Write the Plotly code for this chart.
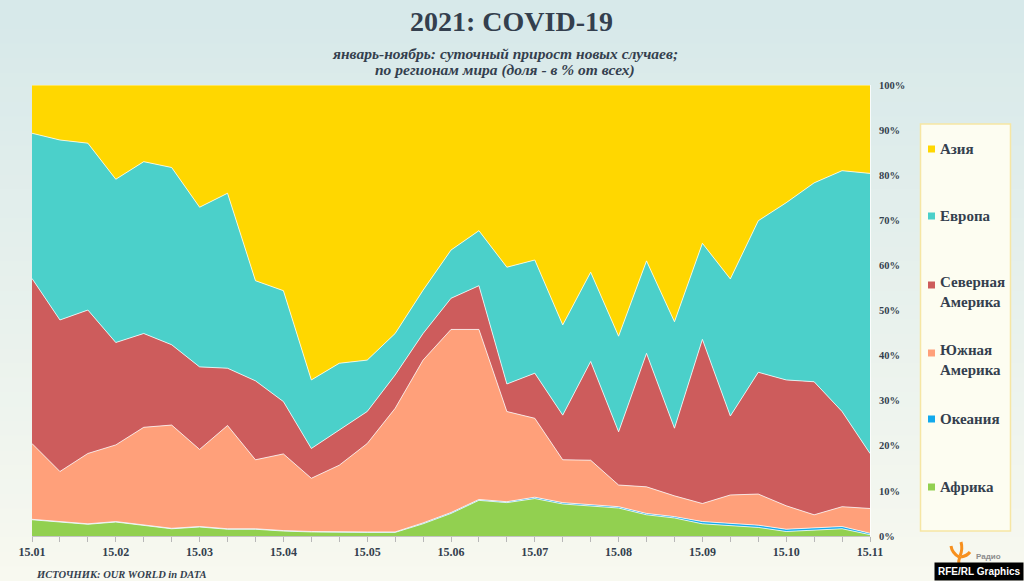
import plotly.graph_objects as go

# Данные: доля новых случаев по регионам, % (шаг ~10 дней)
dates = ["15.01", "25.01", "05.02", "15.02", "25.02", "05.03", "15.03", "25.03",
         "05.04", "15.04", "25.04", "05.05", "15.05", "25.05", "05.06", "15.06",
         "25.06", "05.07", "15.07", "25.07", "05.08", "15.08", "25.08", "05.09",
         "15.09", "25.09", "05.10", "15.10", "25.10", "05.11", "15.11"]

africa = [3.6, 3.1, 2.6, 3.1, 2.3, 1.6, 2.0, 1.5, 1.5, 1.1, 0.9, 0.8, 0.8, 0.8, 2.7, 5.0,
          7.9, 7.4, 8.3, 7.1, 6.6, 6.2, 4.7, 4.0, 2.7, 2.3, 1.9, 1.0, 1.3, 1.6, 0.3]
oceania = [0.1, 0.1, 0.1, 0.1, 0.1, 0.1, 0.1, 0.1, 0.1, 0.1, 0.1, 0.1, 0.1, 0.1, 0.2, 0.2,
           0.2, 0.2, 0.3, 0.3, 0.3, 0.3, 0.3, 0.3, 0.5, 0.5, 0.5, 0.5, 0.5, 0.5, 0.3]
s_america = [16.8, 11.1, 15.6, 17.0, 21.7, 22.9, 17.1, 22.9, 15.3, 17.0, 11.8, 14.8, 19.6, 27.4, 36.1, 40.6,
             37.7, 20.0, 17.5, 9.5, 9.9, 4.8, 5.9, 4.6, 4.0, 6.3, 6.9, 5.2, 2.9, 4.4, 5.5]
n_america = [36.6, 33.6, 31.8, 22.7, 20.8, 17.8, 18.3, 12.7, 17.5, 11.6, 6.6, 7.8, 7.1, 7.4, 5.9, 6.9,
             9.7, 6.1, 10.0, 9.9, 21.9, 11.8, 29.6, 15.0, 36.4, 17.5, 27.0, 27.9, 29.5, 21.1, 12.2]
europe = [32.2, 39.9, 37.0, 36.2, 38.1, 39.3, 35.4, 38.8, 22.2, 24.6, 15.2, 14.8, 11.4, 9.2, 9.6, 10.7,
          12.2, 25.9, 25.1, 20.0, 19.8, 21.2, 20.5, 23.6, 21.3, 30.4, 33.6, 39.3, 44.1, 53.4, 62.1]
asia = [10.7, 12.2, 12.9, 20.9, 17.0, 18.3, 27.1, 24.0, 43.4, 45.6, 65.4, 61.7, 61.0, 55.1, 45.5, 36.6,
        32.3, 40.4, 38.8, 53.2, 41.5, 55.7, 39.0, 52.5, 35.1, 43.0, 30.1, 26.1, 21.7, 19.0, 19.6]

series = [
    ("Африка", africa, "#92D050"),
    ("Океания", oceania, "#11A9EC"),
    ("Южная<br>Америка", s_america, "#FFA07A"),
    ("Северная<br>Америка", n_america, "#CD5C5C"),
    ("Европа", europe, "#4BD0CA"),
    ("Азия", asia, "#FFD700"),
]

W, H = 1024, 581
SERIF = "Liberation Serif"
TXT = "#343f4e"


def fx(x):
    return x / W


def fy(y):
    return 1 - y / H


x_idx = list(range(len(dates)))

fig = go.Figure()
for name, vals, col in series:
    fig.add_trace(go.Scatter(
        x=x_idx, y=vals, name=name, mode="lines",
        stackgroup="one", groupnorm="percent",
        line=dict(width=1, color="rgba(255,255,255,0.75)"),
        fillcolor=col, hoverinfo="skip"
    ))

# фон: мягкий градиент (бирюзовый сверху -> кремовый снизу)
shapes = []
top_c, bot_c = (215, 233, 234), (248, 249, 240)
n = 40
for k in range(n):
    t = k / (n - 1)
    c = tuple(int(bot_c[i] + (top_c[i] - bot_c[i]) * t) for i in range(3))
    shapes.append(dict(type="rect", xref="paper", yref="paper", x0=0, x1=1,
                       y0=k / n, y1=(k + 1) / n + 0.002, fillcolor="rgb(%d,%d,%d)" % c,
                       line=dict(width=0), layer="below"))

# легенда (вручную, как в оригинале)
shapes.append(dict(type="rect", xref="paper", yref="paper",
                   x0=fx(920.5), x1=fx(1010.5), y0=fy(531), y1=fy(124),
                   fillcolor="#fdfdf1", line=dict(color="#f6e6a4", width=1.5)))

legend_items = [
    ("Азия", "#FFD700", 149, 149),
    ("Европа", "#4BD0CA", 216, 216),
    ("Северная<br>Америка", "#CD5C5C", 285, 292),
    ("Южная<br>Америка", "#FFA07A", 353, 360),
    ("Океания", "#11A9EC", 419, 419),
    ("Африка", "#92D050", 487, 487),
]
annotations = []
for label, col, ysq, ytxt in legend_items:
    shapes.append(dict(type="rect", xref="paper", yref="paper",
                       x0=fx(928), x1=fx(935), y0=fy(ysq + 3.5), y1=fy(ysq - 3.5),
                       fillcolor=col, line=dict(width=0)))
    annotations.append(dict(text="<b>%s</b>" % label, x=fx(938), y=fy(ytxt),
                            xref="paper", yref="paper", xanchor="left", yanchor="middle",
                            align="left", showarrow=False,
                            font=dict(family=SERIF, size=15, color=TXT)))

# белая кромка справа у области графика
shapes.append(dict(type="line", xref="paper", yref="paper",
                   x0=fx(870.5), x1=fx(870.5), y0=fy(536), y1=fy(85),
                   line=dict(color="rgba(255,255,255,0.8)", width=1)))

# логотип: стилизованный факел
def pth(pts):
    s = "M %f %f" % (fx(pts[0][0]), fy(pts[0][1]))
    for i in range(1, len(pts), 2):
        s += " Q %f %f %f %f" % (fx(pts[i][0]), fy(pts[i][1]), fx(pts[i + 1][0]), fy(pts[i + 1][1]))
    return s

for pts in [[(959, 566), (958, 561), (960, 556)],
            [(959, 557), (952, 553), (951, 546)],
            [(960, 556), (963, 549), (961, 542)],
            [(961, 557), (967, 556), (970, 552)]]:
    shapes.append(dict(type="path", xref="paper", yref="paper", path=pth(pts),
                       line=dict(color="#f7901e", width=3)))

annotations += [
    dict(text="<b>2021: COVID-19</b>", x=fx(511), y=fy(22), xanchor="center", yanchor="middle",
         font=dict(family=SERIF, size=28, color=TXT)),
    dict(text="<b><i>январь-ноябрь: суточный прирост новых случаев;</i></b>", x=fx(505), y=fy(53),
         xanchor="center", yanchor="middle", font=dict(family=SERIF, size=15.5, color=TXT)),
    dict(text="<b><i>по регионам мира (доля - в % от всех)</i></b>", x=fx(505), y=fy(70),
         xanchor="center", yanchor="middle", font=dict(family=SERIF, size=15.5, color=TXT)),
    dict(text="<b><i>ИСТОЧНИК: OUR WORLD in DATA</i></b>", x=fx(34), y=fy(574),
         xanchor="left", yanchor="middle", font=dict(family=SERIF, size=10.5, color=TXT)),
    dict(text="<b>Радио</b>", x=fx(974), y=fy(556), xanchor="left", yanchor="middle",
         font=dict(family="Liberation Sans", size=8, color="#8c8c8c")),
    dict(text="<b>RFE/RL Graphics</b>", x=1, y=0, xanchor="right", yanchor="bottom",
         bgcolor="#000000", borderpad=3,
         font=dict(family="Liberation Sans", size=10, color="#ffffff")),
]
for a in annotations:
    a.setdefault("xref", "paper")
    a.setdefault("yref", "paper")
    a.setdefault("showarrow", False)

fig.update_layout(
    width=W, height=H,
    margin=dict(l=0, r=0, t=0, b=0),
    paper_bgcolor="#e6f0ec",
    plot_bgcolor="rgba(0,0,0,0)",
    showlegend=False,
    shapes=shapes,
    annotations=annotations,
    xaxis=dict(
        domain=[fx(32), fx(870)], range=[0, len(dates) - 1],
        tickvals=x_idx[::3], ticktext=dates[::3],
        ticks="outside", ticklen=5, tickcolor="#b8b8b8", tickwidth=1,
        minor=dict(dtick=1, ticks="outside", ticklen=5, tickcolor="#b8b8b8"),
        showline=True, linecolor="#c4c4c4", linewidth=1,
        showgrid=False, zeroline=False, automargin=False,
        tickfont=dict(family=SERIF, size=12, color=TXT, weight="bold"),
    ),
    yaxis=dict(
        domain=[1 - 536 / H, 1 - 85 / H], range=[0, 100], side="right",
        dtick=10, ticksuffix="%", ticks="", ticklabelstandoff=8,
        showgrid=False, zeroline=False, showline=False, automargin=False,
        tickfont=dict(family=SERIF, size=10.5, color=TXT, weight="bold"),
    ),
)

fig.write_html("out.html", config={"displayModeBar": False},
               post_script="document.body.style.margin='0';")
